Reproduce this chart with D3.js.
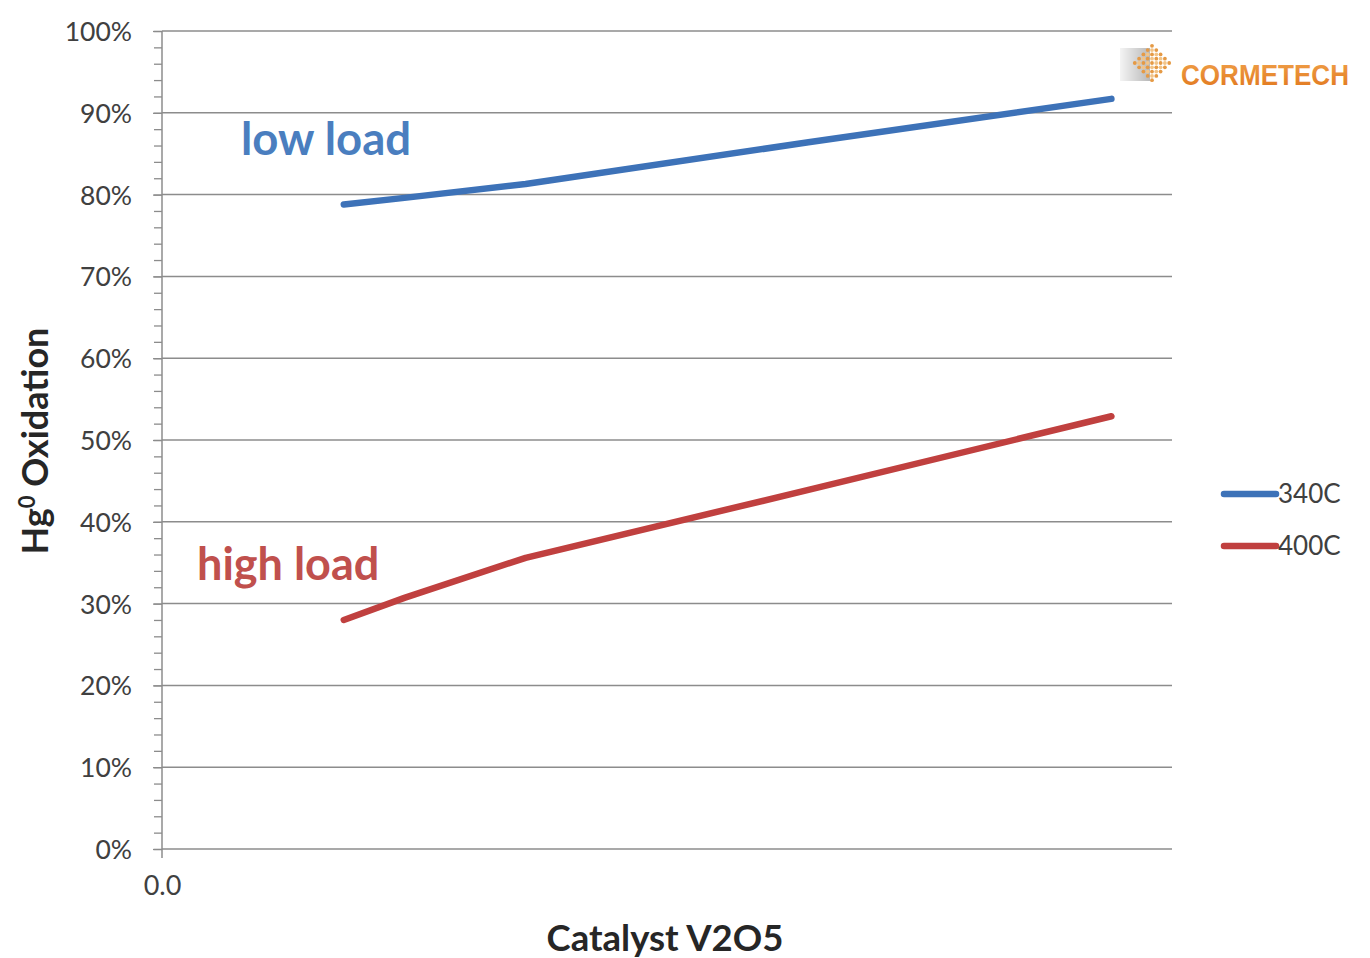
<!DOCTYPE html>
<html><head><meta charset="utf-8">
<script src="https://cdn.jsdelivr.net/npm/d3@7"></script>
<style>
html,body{margin:0;padding:0;background:#fff;}
svg{display:block;}
</style></head>
<body>
<svg id="chart" width="1370" height="958"></svg>
<script>
// ---- data ----
const xValues = [0.18, 0.24, 0.36, 0.64, 0.94];          // catalyst V2O5 (relative)
const series340 = [78.8, 79.6, 81.3, 86.4, 91.7];        // % Hg0 oxidation, 340C (low load)
const series400 = [28.0, 30.7, 35.6, 43.9, 52.9];        // % Hg0 oxidation, 400C (high load)
const seriesNames = ["340C", "400C"];
const yTicks = [0, 10, 20, 30, 40, 50, 60, 70, 80, 90, 100];
const xTicks = [0.0];

const svg = d3.select("#chart");
const font = "Lato, 'Open Sans', sans-serif";
const blue = "#3d72b8", red = "#c0403f";

const x = d3.scaleLinear().domain([0, 1]).range([162, 1172]);
const y = d3.scaleLinear().domain([0, 100]).range([849, 31]);

// gridlines
svg.append("g").selectAll("line").data(yTicks).join("line")
  .attr("x1", 162).attr("x2", 1172)
  .attr("y1", d => y(d)).attr("y2", d => y(d))
  .attr("stroke", "#8c8c8c").attr("stroke-width", 1.5);

// y axis with minor ticks
const minor = d3.range(0, 101, 2);
const yAxisMinor = d3.axisLeft(y).tickValues(minor).tickSize(8).tickFormat("");
svg.append("g").attr("transform", "translate(162,0)").call(yAxisMinor)
  .call(g => g.select(".domain").remove())
  .call(g => g.selectAll("line").attr("stroke", "#8c8c8c").attr("stroke-width", 1.3));

const yAxis = d3.axisLeft(y).tickValues(yTicks).tickSize(9).tickPadding(21)
  .tickFormat(d => d + "%");
svg.append("g").attr("transform", "translate(162,0)").call(yAxis)
  .call(g => g.select(".domain").remove())
  .call(g => g.selectAll("line").attr("stroke", "#8c8c8c").attr("stroke-width", 1.3))
  .call(g => g.selectAll("text").attr("font-family", font).attr("font-size", 26.5)
      .attr("fill", "#404040").attr("dy", "0.36em"));

// vertical axis line
svg.append("line").attr("x1", 162).attr("x2", 162).attr("y1", y(100)).attr("y2", y(0) + 9)
  .attr("stroke", "#8c8c8c").attr("stroke-width", 1.5);

// x axis labels
const xAxis = d3.axisBottom(x).tickValues(xTicks).tickSize(0).tickPadding(27)
  .tickFormat(d3.format(".1f"));
svg.append("g").attr("transform", `translate(0,${y(0)})`).call(xAxis)
  .call(g => g.select(".domain").remove())
  .call(g => g.selectAll("text").attr("font-family", font).attr("font-size", 27).attr("fill", "#404040"));

// lines
const line = d3.line().x((d, i) => x(xValues[i])).y(d => y(d)).curve(d3.curveLinear);
svg.append("path").datum(series340).attr("d", line).attr("fill", "none")
  .attr("stroke", blue).attr("stroke-width", 6.5).attr("stroke-linecap", "round").attr("stroke-linejoin", "round");
svg.append("path").datum(series400).attr("d", line).attr("fill", "none")
  .attr("stroke", red).attr("stroke-width", 6.5).attr("stroke-linecap", "round").attr("stroke-linejoin", "round");

// annotations
svg.append("text").attr("x", 241).attr("y", 155).text("low load")
  .attr("font-family", font).attr("font-weight", "bold").attr("font-size", 45.5).attr("fill", "#4a7ebf");
svg.append("text").attr("x", 197).attr("y", 580).text("high load")
  .attr("font-family", font).attr("font-weight", "bold").attr("font-size", 45).attr("fill", "#c0504d");

// axis titles
svg.append("text").attr("x", 665).attr("y", 951).attr("text-anchor", "middle").text("Catalyst V2O5")
  .attr("font-family", font).attr("font-weight", "bold").attr("font-size", 36.5).attr("fill", "#262626");
const yt = svg.append("text").attr("transform", "translate(48,441) rotate(-90)").attr("text-anchor", "middle")
  .attr("font-family", font).attr("font-weight", "bold").attr("font-size", 36).attr("fill", "#262626");
yt.append("tspan").text("Hg");
yt.append("tspan").text("0").attr("font-size", 22).attr("dy", -13);
yt.append("tspan").text(" Oxidation").attr("dy", 13);

// legend
const legend = svg.append("g");
const legendColors = [blue, red];
seriesNames.forEach((n, i) => {
  const ly = 494 + i * 52;
  legend.append("line").attr("x1", 1224).attr("x2", 1276).attr("y1", ly).attr("y2", ly)
    .attr("stroke", legendColors[i]).attr("stroke-width", 6.5).attr("stroke-linecap", "round");
  legend.append("text").attr("x", 1278).attr("y", ly).attr("dy", "0.36em").text(n)
    .attr("font-family", font).attr("font-size", 26).attr("fill", "#404040");
});

// logo
const logo = svg.append("g");
const defs = svg.append("defs");
const lg = defs.append("linearGradient").attr("id", "gbox").attr("x1", 0).attr("x2", 1);
lg.append("stop").attr("offset", 0).attr("stop-color", "#f4f4f4");
lg.append("stop").attr("offset", 1).attr("stop-color", "#b8b8b8");
logo.append("rect").attr("x", 1120).attr("y", 48).attr("width", 30).attr("height", 33).attr("fill", "url(#gbox)");
const cx = 1152, cy = 63;
for (let i = -4; i <= 4; i++) {
  for (let j = -4; j <= 4; j++) {
    if (Math.abs(i) + Math.abs(j) <= 4) {
      logo.append("circle").attr("cx", cx + i * 4.3).attr("cy", cy + j * 4.3).attr("r", 1.9)
        .attr("fill", (i + j) % 2 === 0 ? "#e59a45" : "#f2c488");
    }
  }
}
const tg = defs.append("linearGradient").attr("id", "gtxt").attr("x1", 0).attr("x2", 0).attr("y1", 0).attr("y2", 1);
tg.append("stop").attr("offset", 0).attr("stop-color", "#f0a14a");
tg.append("stop").attr("offset", 1).attr("stop-color", "#e0761c");
logo.append("text").attr("x", 1181).attr("y", 85).text("CORMETECH")
  .attr("font-family", "'Liberation Sans Narrow', 'Liberation Sans', sans-serif").attr("font-weight", "bold")
  .attr("font-size", 29).attr("textLength", 168).attr("lengthAdjust", "spacingAndGlyphs")
  .attr("fill", "url(#gtxt)");
</script>
</body></html>
